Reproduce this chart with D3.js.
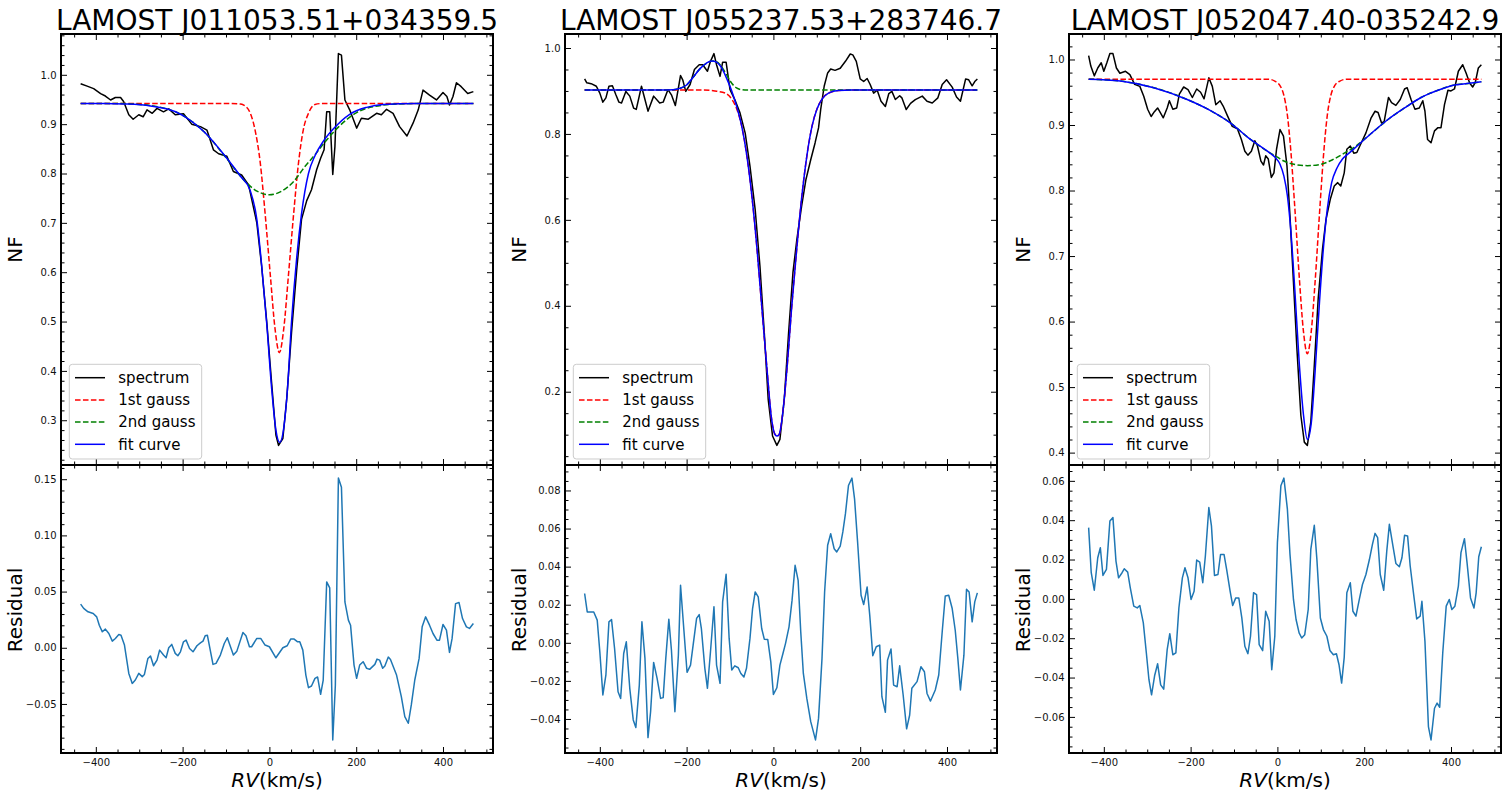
<!DOCTYPE html>
<html>
<head>
<meta charset="utf-8">
<script src="https://cdnjs.cloudflare.com/ajax/libs/d3/7.8.5/d3.min.js"></script>
<style>
  body { margin: 0; background: #fff; }
  svg text { font-family: "DejaVu Sans", sans-serif; }
</style>
</head>
<body>
<svg id="fig"></svg>
<script>
const W = 1508, H = 797;

// ---- data ----
const titles = ["LAMOST J011053.51+034359.5", "LAMOST J055237.53+283746.7", "LAMOST J052047.40-035242.9"];
const legendLabels = ["spectrum", "1st gauss", "2nd gauss", "fit curve"];
const xTicks = [-400, -200, 0, 200, 400];
const xMinorStep = 50;
const nfSteps = [0.1, 0.2, 0.1];
const nfMinorSteps = [0.02, 0.05, 0.02];
const resSteps = [0.05, 0.02, 0.02];
const resMinorSteps = [0.01, 0.005, 0.005];

// panel 1  [RV, NF]
const spec1 = [[-435,0.982],[-420,0.977],[-405,0.972],[-389,0.962],[-378,0.957],[-366,0.949],[-355,0.954],[-343,0.954],[-336,0.946],[-324,0.919],[-314,0.910],[-301,0.919],[-291,0.915],[-282,0.929],[-270,0.922],[-259,0.932],[-244,0.925],[-232,0.931],[-217,0.919],[-198,0.921],[-179,0.900],[-159,0.895],[-144,0.888],[-129,0.848],[-117,0.840],[-98,0.835],[-83,0.804],[-64,0.797],[-48,0.777],[-29,0.700],[-18,0.613],[-6,0.498],[5,0.377],[15,0.270],[21,0.249],[31,0.263],[40,0.344],[51,0.478],[63,0.606],[74,0.707],[86,0.745],[97,0.767],[109,0.808],[118,0.831],[126,0.848],[132,0.925],[139,0.925],[146,0.798],[151,0.855],[159,1.043],[166,1.040],[174,0.949],[185,0.929],[201,0.892],[212,0.912],[228,0.910],[247,0.922],[258,0.919],[270,0.930],[285,0.922],[300,0.895],[317,0.876],[331,0.902],[343,0.929],[354,0.969],[369,0.959],[385,0.949],[400,0.964],[409,0.956],[415,0.939],[423,0.956],[431,0.984],[442,0.976],[457,0.962],[470,0.966]];
const gaussA1 = [[-435,0.942],[-100,0.942],[-67,0.941],[-60,0.939],[-44,0.922],[-33,0.888],[-21,0.821],[-10,0.720],[2,0.595],[13,0.485],[23,0.437],[33,0.485],[44,0.595],[56,0.720],[67,0.821],[78,0.888],[90,0.922],[105,0.940],[124,0.942],[470,0.942]];
const gaussB1 = [[-435,0.942],[-350,0.942],[-300,0.940],[-250,0.934],[-200,0.918],[-150,0.884],[-100,0.832],[-56,0.784],[-30,0.765],[0,0.757],[30,0.765],[56,0.784],[80,0.812],[105,0.838],[130,0.866],[160,0.895],[200,0.923],[250,0.937],[300,0.941],[350,0.942],[470,0.942]];
const fit1 = [[-435,0.942],[-380,0.942],[-336,0.941],[-274,0.937],[-200,0.918],[-150,0.884],[-100,0.833],[-67,0.795],[-44,0.765],[-29,0.707],[-18,0.615],[-6,0.494],[5,0.366],[15,0.280],[24,0.255],[33,0.284],[42,0.368],[51,0.500],[63,0.630],[74,0.718],[90,0.800],[105,0.836],[124,0.865],[147,0.890],[185,0.920],[224,0.934],[262,0.940],[339,0.942],[470,0.942]];
const res1 = [[-435,0.0388],[-428,0.035],[-418,0.032],[-406,0.0305],[-398,0.0275],[-392,0.020],[-385,0.0142],[-378,0.0166],[-370,0.0127],[-362,0.0059],[-355,0.0083],[-347,0.0118],[-342,0.0112],[-334,0.0024],[-324,-0.0228],[-316,-0.0317],[-309,-0.0287],[-301,-0.0228],[-293,-0.0257],[-288,-0.0237],[-280,-0.0095],[-274,-0.0074],[-267,-0.016],[-259,-0.011],[-253,-0.0021],[-244,-0.0065],[-238,-0.0089],[-232,0.0],[-225,0.003],[-217,-0.005],[-211,-0.0071],[-205,-0.0036],[-198,0.0053],[-192,0.0068],[-184,-0.0006],[-176,-0.0036],[-167,0.0018],[-159,0.0044],[-153,0.0059],[-148,0.0107],[-143,0.0112],[-130,-0.0148],[-123,-0.0139],[-113,-0.0065],[-104,0.0038],[-97,0.0089],[-83,-0.0065],[-75,-0.003],[-61,0.0136],[-54,0.0107],[-46,0.0009],[-41,0.0009],[-29,0.0083],[-20,0.0083],[-10,0.0024],[0,0.0009],[15,-0.0089],[31,0.0],[41,0.0018],[49,0.0077],[57,0.0077],[65,0.0053],[70,0.0053],[77,-0.0021],[84,-0.0243],[90,-0.0355],[97,-0.034],[105,-0.0272],[111,-0.026],[118,-0.0414],[124,-0.0287],[132,0.0586],[139,0.0533],[146,-0.082],[152,-0.0331],[159,0.151],[166,0.1429],[174,0.0408],[182,0.0246],[187,0.0201],[195,-0.0154],[201,-0.0272],[208,-0.0154],[216,-0.0124],[224,-0.0183],[231,-0.0192],[243,-0.0148],[248,-0.0101],[254,-0.011],[261,-0.0183],[266,-0.0163],[274,-0.0083],[279,-0.0104],[293,-0.0243],[304,-0.0435],[312,-0.0612],[320,-0.0672],[327,-0.0509],[335,-0.0287],[345,-0.0095],[352,0.0186],[360,0.0275],[369,0.0201],[377,0.0127],[386,0.0068],[392,0.0068],[400,0.0207],[408,0.0157],[415,-0.0041],[421,0.0083],[429,0.0393],[437,0.0402],[445,0.026],[454,0.0186],[461,0.0172],[470,0.0216]];

// panel 2
const spec2 = [[-435,0.928],[-430,0.919],[-420,0.917],[-408,0.911],[-400,0.895],[-393,0.874],[-386,0.884],[-379,0.911],[-371,0.912],[-363,0.891],[-356,0.874],[-350,0.872],[-340,0.899],[-331,0.888],[-322,0.860],[-316,0.857],[-304,0.911],[-296,0.880],[-289,0.853],[-276,0.888],[-262,0.872],[-254,0.874],[-243,0.903],[-235,0.891],[-226,0.866],[-214,0.936],[-209,0.926],[-202,0.899],[-192,0.915],[-182,0.950],[-171,0.961],[-163,0.961],[-152,0.946],[-145,0.969],[-137,0.987],[-131,0.961],[-123,0.934],[-117,0.967],[-109,0.967],[-100,0.903],[-89,0.880],[-77,0.849],[-65,0.802],[-54,0.725],[-42,0.624],[-31,0.492],[-21,0.337],[-12,0.182],[-2,0.097],[8,0.075],[15,0.089],[25,0.182],[35,0.337],[45,0.477],[54,0.554],[65,0.632],[75,0.694],[86,0.740],[96,0.779],[104,0.814],[109,0.857],[117,0.911],[125,0.942],[132,0.951],[142,0.948],[154,0.953],[166,0.969],[177,0.986],[183,0.984],[191,0.969],[200,0.928],[208,0.922],[216,0.929],[223,0.915],[231,0.895],[239,0.902],[248,0.876],[258,0.864],[266,0.894],[273,0.899],[281,0.880],[291,0.889],[296,0.884],[306,0.857],[316,0.871],[327,0.880],[343,0.888],[354,0.876],[366,0.872],[379,0.884],[389,0.915],[399,0.926],[412,0.909],[422,0.886],[431,0.876],[443,0.928],[450,0.926],[458,0.912],[464,0.922],[470,0.928]];
const gaussA2 = [[-435,0.902],[-160,0.902],[-135,0.900],[-111,0.895],[-96,0.881],[-84,0.857],[-73,0.818],[-61,0.748],[-49,0.650],[-38,0.535],[-27,0.400],[-15,0.255],[-4,0.135],[3,0.102],[8,0.097],[13,0.100],[19,0.130],[31,0.250],[42,0.395],[54,0.535],[65,0.650],[77,0.748],[89,0.818],[100,0.857],[112,0.881],[127,0.895],[150,0.901],[180,0.902],[470,0.902]];
const gaussB2 = [[-435,0.902],[-260,0.902],[-231,0.903],[-216,0.906],[-200,0.914],[-185,0.932],[-169,0.952],[-154,0.965],[-142,0.970],[-131,0.968],[-119,0.956],[-108,0.938],[-96,0.918],[-85,0.907],[-73,0.903],[-60,0.902],[470,0.902]];
const fit2 = [[-435,0.902],[-260,0.902],[-231,0.903],[-216,0.906],[-200,0.914],[-185,0.932],[-169,0.952],[-154,0.965],[-142,0.970],[-131,0.967],[-119,0.953],[-108,0.930],[-96,0.900],[-85,0.865],[-73,0.818],[-61,0.748],[-49,0.650],[-38,0.535],[-27,0.400],[-15,0.255],[-4,0.135],[3,0.102],[8,0.097],[13,0.100],[19,0.130],[31,0.250],[42,0.395],[54,0.535],[65,0.650],[77,0.748],[89,0.818],[100,0.857],[112,0.881],[127,0.895],[150,0.901],[180,0.902],[470,0.902]];
const res2 = [[-435,0.0259],[-429,0.0162],[-414,0.0162],[-406,0.0119],[-400,-0.0047],[-393,-0.0274],[-386,-0.0169],[-379,0.011],[-373,0.0122],[-366,-0.003],[-358,-0.0257],[-352,-0.0292],[-345,-0.0056],[-339,0.0005],[-331,-0.0239],[-323,-0.0405],[-317,-0.0445],[-309,-0.0222],[-303,0.011],[-296,-0.0082],[-289,-0.0498],[-283,-0.0362],[-276,-0.0103],[-268,-0.0187],[-260,-0.0292],[-254,-0.0288],[-248,-0.0082],[-241,0.0124],[-235,-0.0038],[-227,-0.0362],[-219,-0.0065],[-214,0.0302],[-206,0.0058],[-199,-0.0155],[-191,-0.0117],[-185,-0.0012],[-177,0.0128],[-171,0.0148],[-166,0.0075],[-158,-0.0134],[-152,-0.0239],[-145,-0.0047],[-137,0.0189],[-131,-0.0117],[-123,-0.0213],[-117,0.0215],[-109,0.036],[-102,0.0023],[-96,-0.0143],[-89,-0.0121],[-81,-0.0131],[-75,-0.0161],[-68,-0.018],[-62,-0.0134],[-54,0.0023],[-48,0.018],[-42,0.0267],[-35,0.0241],[-27,0.0075],[-21,0.0019],[-13,0.0017],[-6,-0.01],[0,-0.0271],[8,-0.0236],[15,-0.0117],[22,-0.0056],[28,-0.0003],[36,0.0084],[43,0.0224],[50,0.0407],[57,0.0328],[63,0.0058],[69,-0.0161],[77,-0.0292],[86,-0.0414],[97,-0.051],[104,-0.0397],[112,-0.0082],[118,0.0267],[125,0.0512],[132,0.0573],[140,0.0494],[146,0.0477],[154,0.0508],[160,0.0582],[166,0.0678],[173,0.0826],[181,0.0865],[187,0.0756],[194,0.0529],[202,0.025],[208,0.0201],[216,0.0293],[222,0.0145],[229,-0.0068],[237,-0.0021],[245,-0.0012],[250,-0.0283],[258,-0.0365],[263,-0.0091],[271,-0.0033],[277,-0.0222],[285,-0.0231],[291,-0.0121],[299,-0.0274],[307,-0.0452],[314,-0.0379],[319,-0.0239],[331,-0.0204],[340,-0.0126],[348,-0.0152],[354,-0.0266],[362,-0.0306],[373,-0.0248],[381,-0.0169],[389,0.0058],[396,0.0246],[404,0.025],[412,0.018],[419,0.0066],[425,-0.0082],[431,-0.0248],[439,-0.0065],[445,0.0281],[451,0.0267],[458,0.011],[464,0.0215],[470,0.0262]];

// panel 3
const spec3 = [[-435,1.006],[-430,0.990],[-422,0.975],[-414,0.987],[-406,0.995],[-400,0.982],[-393,0.995],[-386,1.009],[-379,1.009],[-371,0.987],[-363,0.979],[-350,0.982],[-340,0.977],[-329,0.962],[-317,0.959],[-308,0.944],[-299,0.924],[-291,0.913],[-285,0.919],[-276,0.926],[-263,0.911],[-254,0.926],[-249,0.937],[-241,0.924],[-232,0.926],[-226,0.947],[-216,0.958],[-206,0.954],[-196,0.942],[-186,0.955],[-177,0.950],[-169,0.940],[-158,0.972],[-150,0.959],[-142,0.931],[-132,0.937],[-125,0.929],[-115,0.914],[-104,0.898],[-92,0.894],[-83,0.878],[-75,0.860],[-68,0.854],[-60,0.860],[-52,0.876],[-46,0.868],[-38,0.845],[-32,0.839],[-27,0.853],[-21,0.848],[-14,0.820],[-8,0.827],[-2,0.863],[6,0.893],[14,0.883],[22,0.838],[29,0.761],[37,0.660],[45,0.558],[54,0.457],[62,0.416],[69,0.411],[77,0.447],[85,0.533],[94,0.635],[104,0.711],[112,0.756],[122,0.787],[131,0.807],[139,0.812],[146,0.807],[154,0.827],[160,0.863],[168,0.868],[176,0.857],[183,0.858],[192,0.871],[204,0.888],[216,0.911],[225,0.921],[232,0.919],[240,0.903],[246,0.905],[256,0.942],[263,0.934],[273,0.930],[283,0.939],[293,0.955],[299,0.957],[308,0.939],[317,0.924],[327,0.926],[335,0.937],[340,0.921],[346,0.878],[354,0.873],[362,0.891],[370,0.896],[377,0.896],[385,0.931],[393,0.953],[400,0.952],[408,0.955],[417,0.982],[427,0.992],[435,0.979],[443,0.964],[450,0.958],[456,0.965],[463,0.987],[470,0.992]];
const gaussA3 = [[-435,0.970],[-21,0.970],[-6,0.967],[6,0.960],[15,0.945],[23,0.915],[31,0.860],[40,0.775],[51,0.662],[60,0.585],[69,0.551],[78,0.585],[87,0.662],[98,0.775],[107,0.860],[115,0.915],[123,0.945],[132,0.960],[144,0.967],[160,0.970],[470,0.970]];
const gaussB3 = [[-435,0.970],[-362,0.967],[-285,0.957],[-208,0.939],[-154,0.922],[-108,0.903],[-62,0.878],[-23,0.860],[0,0.851],[15,0.845],[38,0.840],[69,0.838],[100,0.840],[127,0.847],[154,0.857],[177,0.866],[216,0.887],[254,0.908],[293,0.926],[331,0.942],[370,0.953],[408,0.961],[447,0.964],[470,0.966]];
const fit3 = [[-435,0.970],[-362,0.967],[-285,0.957],[-208,0.939],[-154,0.922],[-108,0.903],[-62,0.878],[-23,0.860],[-6,0.851],[6,0.840],[15,0.822],[23,0.792],[31,0.738],[40,0.650],[50,0.540],[60,0.458],[69,0.420],[78,0.445],[87,0.525],[97,0.630],[106,0.712],[115,0.772],[125,0.812],[137,0.834],[150,0.848],[165,0.857],[177,0.864],[216,0.887],[254,0.908],[293,0.926],[331,0.942],[370,0.953],[408,0.961],[447,0.964],[470,0.966]];
const res3 = [[-435,0.0362],[-429,0.0133],[-422,0.0044],[-414,0.0209],[-408,0.026],[-402,0.0119],[-394,0.015],[-386,0.0396],[-379,0.0413],[-372,0.0192],[-366,0.0107],[-358,0.0133],[-353,0.0153],[-345,0.0136],[-339,0.0056],[-331,-0.0037],[-323,-0.0046],[-317,-0.0034],[-309,-0.0122],[-302,-0.0275],[-296,-0.0411],[-290,-0.0488],[-283,-0.0391],[-276,-0.033],[-269,-0.0437],[-262,-0.0459],[-254,-0.0258],[-248,-0.0177],[-241,-0.0284],[-234,-0.0275],[-227,-0.0046],[-219,0.0107],[-213,0.0158],[-206,0.0107],[-199,-0.0003],[-192,0.0039],[-186,0.0197],[-179,0.0187],[-172,0.0082],[-166,0.0218],[-158,0.0464],[-152,0.0371],[-145,0.0119],[-137,0.0124],[-131,0.0226],[-123,0.0226],[-117,0.015],[-109,0.0039],[-103,-0.0034],[-96,0.0005],[-89,0.0005],[-82,-0.0097],[-75,-0.0241],[-68,-0.0279],[-62,-0.019],[-55,0.0031],[-48,0.0022],[-42,-0.0233],[-34,-0.0263],[-27,-0.0063],[-19,-0.0114],[-13,-0.036],[-6,-0.019],[0,0.0286],[8,0.0575],[15,0.0614],[23,0.0456],[29,0.0226],[37,-0.0003],[43,-0.0105],[50,-0.0173],[56,-0.0199],[63,-0.0182],[71,-0.0054],[77,0.0252],[85,0.0374],[91,0.0201],[99,-0.0097],[106,-0.0156],[114,-0.019],[121,-0.0262],[129,-0.0284],[136,-0.0279],[142,-0.0335],[148,-0.0428],[154,-0.0296],[160,0.0031],[168,0.0082],[174,-0.0063],[181,-0.0088],[189,0.0],[196,0.0073],[204,0.0124],[212,0.02],[219,0.0277],[225,0.0333],[231,0.0311],[237,0.0124],[245,0.0044],[252,0.0243],[258,0.0379],[266,0.0272],[273,0.018],[281,0.0163],[287,0.0209],[293,0.0323],[300,0.032],[306,0.0167],[314,0.0022],[321,-0.0102],[329,-0.0088],[333,-0.0012],[340,-0.0216],[348,-0.0649],[354,-0.0717],[362,-0.0556],[368,-0.053],[374,-0.0551],[381,-0.0275],[389,-0.0037],[396,-0.0003],[402,-0.0054],[409,-0.0037],[417,0.0065],[423,0.0235],[431,0.0306],[437,0.0184],[445,0.0005],[453,-0.0046],[458,0.0031],[464,0.0214],[470,0.0265]];

const panels = [
  { spec: spec1, g1: gaussA1, g2: gaussB1, fit: fit1, res: res1 },
  { spec: spec2, g1: gaussA2, g2: gaussB2, fit: fit2, res: res2 },
  { spec: spec3, g1: gaussA3, g2: gaussB3, fit: fit3, res: res3 }
];

// ---- layout ----
const left0 = 61, colGap = 504, pw = 432;
const topY = 34, midY = 465, bottomY = 753;

const lineStyles = [
  { color: "#000000", dash: null },
  { color: "#ff0000", dash: "5.55,2.4" },
  { color: "#008000", dash: "5.55,2.4" },
  { color: "#0000ff", dash: null }
];

const svg = d3.select("#fig").attr("width", W).attr("height", H);

function padded(ext) {
  const d = (ext[1] - ext[0]) * 0.05;
  return [ext[0] - d, ext[1] + d];
}
function steps(dom, step) {
  const a = Math.ceil(dom[0] / step - 1e-9), b = Math.floor(dom[1] / step + 1e-9);
  return d3.range(a, b + 1).map(k => +(k * step).toFixed(6));
}
function minorOf(dom, step, major) {
  return steps(dom, step).filter(v => !major.some(m => Math.abs(m - v) < step / 10));
}

function tidy(sel) {
  sel.select(".domain").remove();
  sel.selectAll("line").attr("stroke", "#000").attr("stroke-width", 1);
  sel.selectAll("text").attr("font-size", 10).attr("font-family", "DejaVu Sans").attr("fill", "#111");
}

function frame(g, x, y, yStep, yMinorStep, yFmt, showX) {
  const [x0, x1] = x.range();
  const [y1, y0] = y.range();
  const yMajor = steps(y.domain(), yStep);
  const yMinor = minorOf(y.domain(), yMinorStep, yMajor);
  const xMinor = minorOf(x.domain(), xMinorStep, xTicks);
  const big = 6, small = 3.5;

  g.append("g").attr("transform", `translate(${x0},0)`)
    .call(d3.axisLeft(y).tickValues(yMajor).tickSize(-big).tickPadding(4.5).tickFormat(d3.format(yFmt))).call(tidy);
  g.append("g").attr("transform", `translate(${x0},0)`)
    .call(d3.axisLeft(y).tickValues(yMinor).tickSize(-small).tickFormat("")).call(tidy);
  g.append("g").attr("transform", `translate(${x1},0)`)
    .call(d3.axisRight(y).tickValues(yMajor).tickSize(-big).tickFormat("")).call(tidy);
  g.append("g").attr("transform", `translate(${x1},0)`)
    .call(d3.axisRight(y).tickValues(yMinor).tickSize(-small).tickFormat("")).call(tidy);

  g.append("g").attr("transform", `translate(0,${y1})`)
    .call(d3.axisBottom(x).tickValues(xTicks).tickSize(-big).tickPadding(6)
      .tickFormat(showX ? d3.format("d") : "")).call(tidy);
  g.append("g").attr("transform", `translate(0,${y1})`)
    .call(d3.axisBottom(x).tickValues(xMinor).tickSize(-small).tickFormat("")).call(tidy);
  g.append("g").attr("transform", `translate(0,${y0})`)
    .call(d3.axisTop(x).tickValues(xTicks).tickSize(-big).tickFormat("")).call(tidy);
  g.append("g").attr("transform", `translate(0,${y0})`)
    .call(d3.axisTop(x).tickValues(xMinor).tickSize(-small).tickFormat("")).call(tidy);

  g.append("rect")
    .attr("x", x0).attr("y", y0).attr("width", x1 - x0).attr("height", y1 - y0)
    .attr("fill", "none").attr("stroke", "#000").attr("stroke-width", 2);
}

panels.forEach((p, i) => {
  const left = left0 + colGap * i, right = left + pw;
  const allX = p.spec.concat(p.res).map(d => d[0]);
  const x = d3.scaleLinear().domain(padded(d3.extent(allX))).range([left, right]);

  const nfVals = [p.spec, p.g1, p.g2, p.fit].flat().map(d => d[1]);
  const yTop = d3.scaleLinear().domain(padded(d3.extent(nfVals))).range([midY, topY]);
  const yRes = d3.scaleLinear().domain(padded(d3.extent(p.res, d => d[1]))).range([bottomY, midY]);

  const g = svg.append("g");

  // clip regions
  const defs = g.append("defs");
  defs.append("clipPath").attr("id", `clipT${i}`).append("rect")
    .attr("x", left).attr("y", topY).attr("width", pw).attr("height", midY - topY);
  defs.append("clipPath").attr("id", `clipB${i}`).append("rect")
    .attr("x", left).attr("y", midY).attr("width", pw).attr("height", bottomY - midY);

  // top panel lines
  const topG = g.append("g").attr("clip-path", `url(#clipT${i})`);
  const raw = d3.line().x(d => x(d[0])).y(d => yTop(d[1]));
  const smooth = d3.line().x(d => x(d[0])).y(d => yTop(d[1])).curve(d3.curveMonotoneX);
  const series = [[p.spec, raw], [p.g1, smooth], [p.g2, smooth], [p.fit, smooth]];
  series.forEach(([data, gen], k) => {
    topG.append("path")
      .attr("d", gen(data))
      .attr("fill", "none")
      .attr("stroke", lineStyles[k].color)
      .attr("stroke-width", 1.5)
      .attr("stroke-dasharray", lineStyles[k].dash)
      .attr("stroke-linejoin", "round");
  });

  // residual lines
  g.append("g").attr("clip-path", `url(#clipB${i})`)
    .append("path")
    .attr("d", d3.line().x(d => x(d[0])).y(d => yRes(d[1]))(p.res))
    .attr("fill", "none")
    .attr("stroke", "#1f77b4")
    .attr("stroke-width", 1.5)
    .attr("stroke-linejoin", "round");

  frame(g, x, yTop, nfSteps[i], nfMinorSteps[i], ".1f", false);
  frame(g, x, yRes, resSteps[i], resMinorSteps[i], ".2f", true);

  // legend
  const lg = g.append("g").attr("transform", `translate(${left + 8.3},${midY - 100.7})`);
  lg.append("rect")
    .attr("width", 132.4).attr("height", 94.7).attr("rx", 3)
    .attr("fill", "#fff").attr("fill-opacity", 0.8)
    .attr("stroke", "#cccccc").attr("stroke-width", 1);
  legendLabels.forEach((lab, k) => {
    const cy = 13.4 + 22.2 * k;
    lg.append("line")
      .attr("x1", 5.7).attr("x2", 35.7).attr("y1", cy).attr("y2", cy)
      .attr("stroke", lineStyles[k].color).attr("stroke-width", 1.5)
      .attr("stroke-dasharray", lineStyles[k].dash);
    lg.append("text")
      .attr("x", 49).attr("y", cy + 5.4)
      .attr("font-size", 15).attr("fill", "#000")
      .text(lab);
  });

  // texts
  g.append("text")
    .attr("x", (left + right) / 2).attr("y", 29.5)
    .attr("text-anchor", "middle").attr("font-size", 28)
    .text(titles[i]);

  g.append("text")
    .attr("transform", `translate(${left - 39},${(topY + midY) / 2}) rotate(-90)`)
    .attr("text-anchor", "middle").attr("font-size", 20)
    .text("NF");

  g.append("text")
    .attr("transform", `translate(${left - 39},${(midY + bottomY) / 2 + 1}) rotate(-90)`)
    .attr("text-anchor", "middle").attr("font-size", 20)
    .text("Residual");

  const xl = g.append("text")
    .attr("x", (left + right) / 2).attr("y", 786.5)
    .attr("text-anchor", "middle").attr("font-size", 20);
  xl.append("tspan").attr("font-style", "italic").text("RV");
  xl.append("tspan").text("(km/s)");
});
</script>
</body>
</html>
